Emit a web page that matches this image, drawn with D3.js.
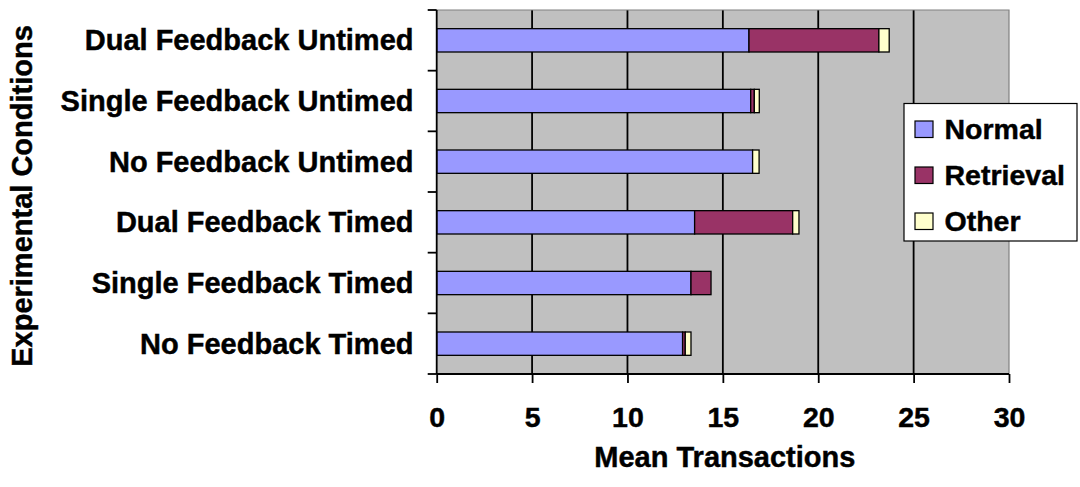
<!DOCTYPE html>
<html>
<head>
<meta charset="utf-8">
<script src="https://cdn.jsdelivr.net/npm/d3@7"></script>
<style>
  html, body { margin: 0; padding: 0; background: #ffffff; }
  svg { display: block; }
  text { font-family: "Liberation Sans", Arial, Helvetica, sans-serif; font-weight: bold; fill: #000; stroke: #000; stroke-width: 0.45px; }
</style>
</head>
<body>
<svg id="chart" width="1080" height="487"></svg>
<script>
// Experimental conditions, listed top to bottom
const categories = [
  "Dual Feedback Untimed",
  "Single Feedback Untimed",
  "No Feedback Untimed",
  "Dual Feedback Timed",
  "Single Feedback Timed",
  "No Feedback Timed"
];

// Mean transactions per condition, by transaction type
const normal    = [16.37, 16.46, 16.56, 13.52, 13.33, 12.89];
const retrieval = [6.81, 0.19, 0.00, 5.14, 1.05, 0.14];
const other     = [0.54, 0.26, 0.34, 0.33, 0.00, 0.30];

const seriesNames = ["Normal", "Retrieval", "Other"];
const seriesColors = ["#9999FF", "#993366", "#FFFFCC"];
const xTicks = [0, 5, 10, 15, 20, 25, 30];

const svg = d3.select("#chart");

const plot = { left: 436.7, right: 1009, top: 10, bottom: 374 };

const x = d3.scaleLinear().domain([0, 30]).range([plot.left, plot.right]);
const y = d3.scaleBand().domain(categories).range([plot.top, plot.bottom]).padding(0);
const barH = y.bandwidth() / 2.6;

const rows = categories.map((c, i) => ({
  category: c,
  Normal: normal[i],
  Retrieval: retrieval[i],
  Other: other[i]
}));
const stacked = d3.stack().keys(seriesNames)(rows);
const color = d3.scaleOrdinal().domain(seriesNames).range(seriesColors);

// plot background
svg.append("rect")
  .attr("x", plot.left).attr("y", plot.top)
  .attr("width", plot.right - plot.left).attr("height", plot.bottom - plot.top)
  .attr("fill", "#C0C0C0");

// vertical gridlines
svg.append("g")
  .selectAll("line")
  .data(xTicks.filter(t => t > 0 && t < 30))
  .join("line")
  .attr("x1", d => x(d)).attr("x2", d => x(d))
  .attr("y1", plot.top).attr("y2", plot.bottom)
  .attr("stroke", "#000").attr("stroke-width", 1.8);

// top and right border
svg.append("path")
  .attr("d", `M${plot.left},${plot.top}H${plot.right}V${plot.bottom}`)
  .attr("fill", "none").attr("stroke", "#808080").attr("stroke-width", 1.2);

// stacked bars
svg.append("g")
  .selectAll("g")
  .data(stacked)
  .join("g")
  .attr("fill", d => color(d.key))
  .selectAll("rect")
  .data(d => d.filter(s => s[1] - s[0] > 0))
  .join("rect")
  .attr("x", d => x(d[0]))
  .attr("width", d => x(d[1]) - x(d[0]))
  .attr("y", d => y(d.data.category) + (y.bandwidth() - barH) / 2)
  .attr("height", barH)
  .attr("stroke", "#000")
  .attr("stroke-width", 1.3);

// x axis
const xAxis = svg.append("g")
  .attr("transform", `translate(0,${plot.bottom})`)
  .call(d3.axisBottom(x).tickValues(xTicks).tickSize(9).tickPadding(24));
xAxis.select(".domain").attr("stroke", "#000").attr("stroke-width", 1.8)
  .attr("d", `M${plot.left},0H${plot.right}`);
xAxis.selectAll(".tick line").attr("stroke", "#000").attr("stroke-width", 1.8);
xAxis.selectAll(".tick text")
  .style("font-size", "28.5px")
  .style("font-family", '"Liberation Sans", Arial, sans-serif')
  .style("font-weight", "bold")
  .attr("dy", "0.71em");

// y axis line and tick marks at band boundaries
const yBounds = categories.map(c => y(c)).concat([plot.bottom]);
svg.append("line")
  .attr("x1", plot.left).attr("x2", plot.left)
  .attr("y1", plot.top).attr("y2", plot.bottom)
  .attr("stroke", "#000").attr("stroke-width", 1.8);
svg.append("g")
  .selectAll("line")
  .data(yBounds)
  .join("line")
  .attr("x1", plot.left - 9).attr("x2", plot.left)
  .attr("y1", d => d).attr("y2", d => d)
  .attr("stroke", "#000").attr("stroke-width", 1.8);

// category labels
svg.append("g")
  .selectAll("text")
  .data(categories)
  .join("text")
  .attr("x", 413.5)
  .attr("y", d => y(d) + y.bandwidth() / 2 + 10)
  .attr("text-anchor", "end")
  .style("font-size", "29px")
  .text(d => d);

// axis titles
svg.append("text")
  .attr("x", (plot.left + plot.right) / 2 + 2)
  .attr("y", 466.7)
  .attr("text-anchor", "middle")
  .style("font-size", "29px")
  .text("Mean Transactions");

svg.append("text")
  .attr("transform", `translate(31.5,${(plot.top + plot.bottom) / 2 + 4}) rotate(-90)`)
  .attr("text-anchor", "middle")
  .style("font-size", "29px")
  .text("Experimental Conditions");

// legend
const legend = svg.append("g");
legend.append("rect")
  .attr("x", 904).attr("y", 103.5)
  .attr("width", 173).attr("height", 137.5)
  .attr("fill", "#fff").attr("stroke", "#000").attr("stroke-width", 1.2);
const rowY = d3.scalePoint().domain(seriesNames).range([129, 221]);
const items = legend.selectAll("g.item")
  .data(seriesNames)
  .join("g")
  .attr("class", "item");
items.append("rect")
  .attr("x", 915).attr("y", d => rowY(d) - 8)
  .attr("width", 18).attr("height", 16.5)
  .attr("fill", d => color(d))
  .attr("stroke", "#000").attr("stroke-width", 1.2);
items.append("text")
  .attr("x", 944.5)
  .attr("y", d => rowY(d) + 10)
  .style("font-size", "28.5px")
  .text(d => d);
</script>
</body>
</html>
